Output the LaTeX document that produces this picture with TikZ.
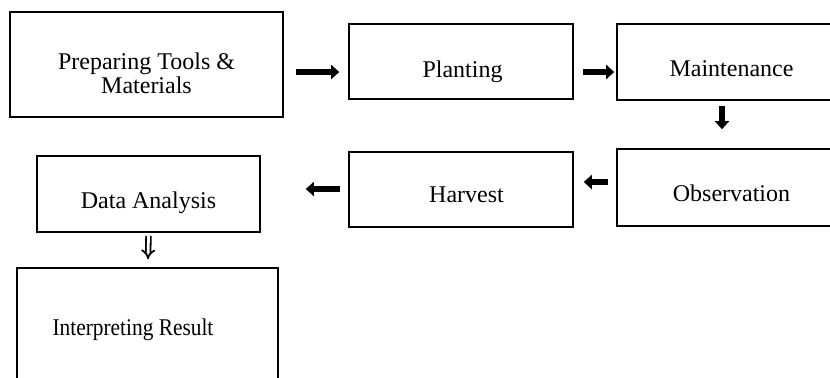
\documentclass[tikz,border=0pt]{standalone}
\usepackage{fontspec}
\setmainfont{Liberation Serif}
\usepackage{graphicx}
\usepackage{tikz}
\usetikzlibrary{calc,arrows.meta}
\newcommand{\lowered}[2]{\raisebox{-#1}[\height][\depth]{#2}}

\begin{document}
\begin{tikzpicture}[x=.5pt, y=-.5pt,
    stepbox/.style={draw, line width=.8pt, inner sep=0pt, font=\fontsize{12}{11}\selectfont},
    flow/.style={line width=3pt, -{Triangle[length=4pt,width=7pt]}},
    hollow/.style={double, double distance=1.4pt, line width=.9pt, -{Implies}}]
    \useasboundingbox (0,0) rectangle (830,377);
    \clip (0,0) rectangle (830,377);
    \node[stepbox, minimum width=136.5pt, minimum height=52.5pt] (prep) at (146.5,64.5)
	{\lowered{6pt}{\begin{tabular}{@{}c@{}}Preparing Tools \&\\Materials\end{tabular}}};
    \node[stepbox, minimum width=112pt, minimum height=37.5pt] (plant) at (461,61.5)
	{\lowered{5.2pt}{\hspace*{1.5pt}Planting}};
    \node[stepbox, minimum width=114.5pt, minimum height=38pt] (maint) at (731.5,62)
	{\lowered{3.5pt}{Maintenance}};
    \node[stepbox, minimum width=114.5pt, minimum height=38.5pt] (obs) at (731.5,187.5)
	{\lowered{3pt}{Observation}};
    \node[stepbox, minimum width=112pt, minimum height=37.5pt] (harv) at (461,189.5)
	{\lowered{2.6pt}{\hspace*{5.5pt}Harvest}};
    \node[stepbox, minimum width=111.5pt, minimum height=38pt] (data) at (148.5,194)
	{\lowered{4.2pt}{Data Analysis}};
    \node[stepbox, minimum width=130.5pt, minimum height=62pt] (interp) at (147.5,330)
	{\hspace*{-7.25pt}\scalebox{.89}[1]{Interpreting Result}\hspace*{7.25pt}};
    \draw[flow] ($ (prep.east) + (12,7.5) $) -- ($ (plant.west) + (-9,10.5) $);
    \draw[flow] ($ (plant.east) + (9,10.5) $) -- ($ (maint.west) + (-2,10) $);
    \draw[flow] ($ (maint.south) + (-9.5,5) $) -- ($ (obs.north) + (-9.5,-19) $);
    \draw[flow] ($ (obs.west) + (-8,-5.5) $) -- ($ (harv.east) + (10,-7.5) $);
    \draw[flow] ($ (harv.west) + (-8,-0.5) $) -- ($ (data.east) + (45,-5) $);
    \draw[hollow] ($ (data.south) + (0,3) $) -- ($ (interp.north) + (0.5,-8) $);
\end{tikzpicture}
\end{document}
